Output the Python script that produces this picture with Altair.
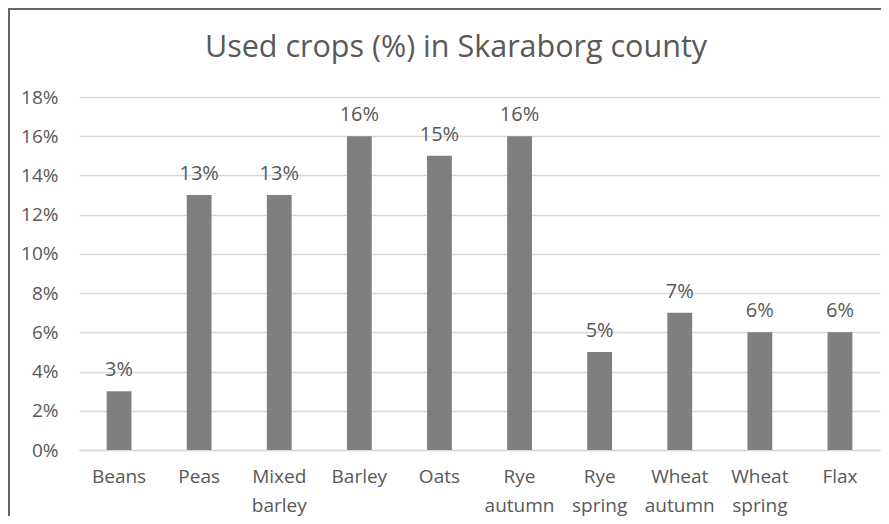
import altair as alt
import pandas as pd

categories = ["Beans", "Peas", "Mixed barley", "Barley", "Oats", "Rye autumn",
              "Rye spring", "Wheat autumn", "Wheat spring", "Flax"]
values = [0.03, 0.13, 0.13, 0.16, 0.15, 0.16, 0.05, 0.07, 0.06, 0.06]
y_ticks = [0, 0.02, 0.04, 0.06, 0.08, 0.10, 0.12, 0.14, 0.16, 0.18]
title_text = "Used crops (%) in Skaraborg county"

df = pd.DataFrame({"crop": categories, "share": values})

FONT = "Open Sans"
TXT = "#595959"

x = alt.X("crop:N", sort=categories, title=None,
          scale=alt.Scale(paddingInner=0.69, paddingOuter=0.345),
          axis=alt.Axis(labelAngle=0, labelExpr="split(datum.label, ' ')",
                        labelLineHeight=29, labelPadding=17, ticks=False,
                        domainColor="#d9d9d9", domainWidth=1.5,
                        labelFontSize=19, labelColor=TXT, labelFont=FONT))
y = alt.Y("share:Q", title=None,
          scale=alt.Scale(domain=[0, 0.18], nice=False),
          axis=alt.Axis(values=y_ticks, format=".0%", domain=False, ticks=False,
                        labelOverlap=False, tickCount=10,
                        gridColor="#d9d9d9", gridWidth=1.5, labelPadding=21,
                        labelFontSize=19, labelColor=TXT, labelFont=FONT))

bars = alt.Chart(df).mark_bar(color="#7f7f7f").encode(x=x, y=y)
labels = alt.Chart(df).mark_text(
    baseline="alphabetic", dy=-15, fontSize=20, color=TXT, font=FONT
).encode(x=x, y=y, text=alt.Text("share:Q", format=".0%"))

one = pd.DataFrame({"a": [0]})
border_top = alt.Chart(one).mark_rule(color="#666666", strokeWidth=2).encode(
    x=alt.value(-72), x2=alt.value(810), y=alt.value(-88))
border_left = alt.Chart(one).mark_rule(color="#666666", strokeWidth=2).encode(
    x=alt.value(-70), y=alt.value(-89), y2=alt.value(440))
title = alt.Chart(one).mark_text(
    fontSize=30.5, font=FONT, color=TXT, baseline="alphabetic", align="center"
).encode(x=alt.value(377), y=alt.value(-40), text=alt.value(title_text))

chart = alt.layer(border_top, border_left, title, bars, labels).properties(
    width=801, height=353,
    autosize=alt.AutoSizeParams(type="none"),
    padding={"left": 71, "top": 89, "right": 1, "bottom": 66},
).configure(background="white").configure_view(stroke=None)

chart.save("out.html", embed_options={"renderer": "svg", "actions": False})
